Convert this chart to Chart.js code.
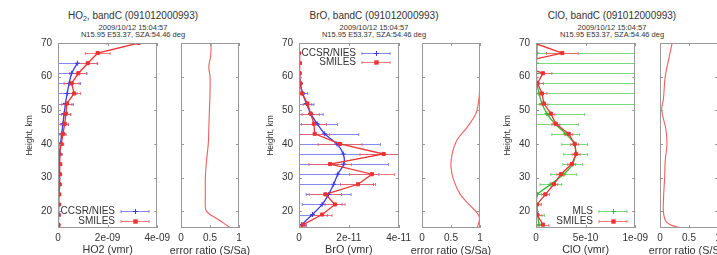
<!DOCTYPE html>
<html>
<head>
<meta charset="utf-8">
<script src="https://cdn.jsdelivr.net/npm/chart.js@4.4.0/dist/chart.umd.min.js"></script>
<style>
body { margin:0; width:717px; height:255px; overflow:hidden; background:#fff; position:relative;
       font-family:"Liberation Sans", Arial, sans-serif; color:#333; }
canvas { position:absolute; top:0; }
.ttl { position:absolute; width:220px; text-align:center; font-size:10px; line-height:12px; top:10px; white-space:nowrap; }
.ttl sub { font-size:7px; vertical-align:baseline; position:relative; top:2px; }
.sub { position:absolute; width:220px; text-align:center; font-size:7.5px; line-height:7px; top:24px; white-space:nowrap; }
.xr { position:absolute; width:120px; text-align:center; font-size:10.8px; line-height:12px; top:244px; white-space:nowrap; }
</style>
</head>
<body>
<div class="ttl" style="left:23px">HO<sub>2</sub>, bandC (091012000993)</div>
<div class="sub" style="left:23px">2009/10/12 15:04:57<br>N15.95 E53.37, SZA:54.46 deg</div>
<div class="ttl" style="left:264px">BrO, bandC (091012000993)</div>
<div class="sub" style="left:264px">2009/10/12 15:04:57<br>N15.95 E53.37, SZA:54.46 deg</div>
<div class="ttl" style="left:502px">ClO, bandC (091012000993)</div>
<div class="sub" style="left:502px">2009/10/12 15:04:57<br>N15.95 E53.37, SZA:54.46 deg</div>

<canvas id="m1" width="166" height="255" style="left:8px"></canvas>
<canvas id="e1" width="78" height="255" style="left:171px"></canvas>
<canvas id="m2" width="166" height="255" style="left:249px"></canvas>
<canvas id="e2" width="78" height="255" style="left:412px"></canvas>
<canvas id="m3" width="166" height="255" style="left:486px"></canvas>
<canvas id="e3" width="78" height="255" style="left:650px"></canvas>

<div class="xr" style="left:150px">error ratio (S/Sa)</div>
<div class="xr" style="left:391px">error ratio (S/Sa)</div>
<div class="xr" style="left:629px">error ratio (S/Sa)</div>

<script>
Chart.defaults.font.family = '"Liberation Sans", Arial, sans-serif';
Chart.defaults.color = '#333';

// retrieval grid (km)
var heights = [70, 67, 64, 61, 58, 55, 52, 49, 46, 43, 40, 37, 34, 31, 28, 25, 22, 19, 16];
var heightTicks = [20, 30, 40, 50, 60, 70];
var heightLabels = ['20', '30', '40', '50', '60', '70'];
var ratioTicks = [0, 0.5, 1];
var ratioLabels = ['0', '0.5', '1'];

// HO2
var ho2Smiles = [3.25e-9, 1.6e-9, 1.2e-9, 0.82e-9, 0.55e-9, 0.65e-9, 0.36e-9, 0.32e-9, 0.27e-9, 0.2e-9, 0.13e-9, 0.05e-9, 0.08e-9, 0.07e-9, 0.06e-9, 0.04e-9, 0.03e-9, 0.02e-9, 0.01e-9];
var ho2SmilesErr = [1.3e-9, 0.5e-9, 0.4e-9, 0.35e-9, 0.3e-9, 0.26e-9, 0.2e-9, 0.18e-9, 0.15e-9, 0.12e-9, 0.1e-9, 0.08e-9, 0.08e-9, 0.08e-9, 0.08e-9, 0.08e-9, 0.08e-9, 0.08e-9, 0.08e-9];
var ho2NiesHeights = [64, 61, 58, 55, 52, 49, 46, 43, 40, 37, 34, 31, 28, 25, 22, 19, 16];
var ho2Nies = [0.78e-9, 0.55e-9, 0.45e-9, 0.37e-9, 0.3e-9, 0.25e-9, 0.2e-9, 0.15e-9, 0.1e-9, 0.07e-9, 0.05e-9, 0.04e-9, 0.03e-9, 0.02e-9, 0.01e-9, 0.005e-9, 0];
var ho2NiesErr = [0.8e-9, 0.6e-9, 0.46e-9, 0.4e-9, 0.32e-9, 0.27e-9, 0.22e-9, 0.17e-9, 0.12e-9, 0.1e-9, 0.08e-9, 0.07e-9, 0.06e-9, 0.06e-9, 0.1e-9, 0.08e-9, 0.05e-9];
var ho2Ticks = [0, 2e-9, 4e-9];
var ho2TickLabels = ['0', '2e-09', '4e-09'];
var ho2RatioHeights = [70, 66, 63, 60, 55, 50, 45, 40, 35, 30, 25, 21, 20, 19, 18, 17, 16, 15];
var ho2Ratio = [0.52, 0.51, 0.48, 0.5, 0.5, 0.49, 0.48, 0.47, 0.44, 0.42, 0.42, 0.42, 0.44, 0.5, 0.6, 0.69, 0.77, 0.85];

// BrO
var broSmilesHeights = [67, 64, 61, 58, 55, 52, 49, 46, 43, 40, 37, 34, 31, 28, 25, 22, 19, 16];
var broSmiles = [0, 0.03e-11, 0.02e-11, 0.05e-11, 0.12e-11, 0.34e-11, 0.47e-11, 0.6e-11, 0.63e-11, 1.65e-11, 3.4e-11, 1.25e-11, 2.93e-11, 2.37e-11, 1.06e-11, 1.45e-11, 0.93e-11, 0.17e-11];
var broSmilesErr = [0.05e-11, 0.05e-11, 0.05e-11, 0.06e-11, 0.1e-11, 0.17e-11, 0.35e-11, 0.5e-11, 0.6e-11, 0.88e-11, 0.95e-11, 0.85e-11, 0.9e-11, 0.7e-11, 0.65e-11, 0.4e-11, 0.4e-11, 0.1e-11];
var broNies = [0, 0, 0.01e-11, 0.02e-11, 0.05e-11, 0.15e-11, 0.3e-11, 0.47e-11, 0.73e-11, 1.03e-11, 1.52e-11, 1.78e-11, 1.8e-11, 1.56e-11, 1.39e-11, 1.19e-11, 0.93e-11, 0.54e-11, 0.1e-11];
var broNiesErr = [0.02e-11, 0.02e-11, 0.03e-11, 0.05e-11, 0.08e-11, 0.2e-11, 0.3e-11, 0.5e-11, 0.82e-11, 1.37e-11, 1.75e-11, 2.6e-11, 1.8e-11, 1.65e-11, 1.6e-11, 0.9e-11, 0.8e-11, 0.6e-11, 0.2e-11];
var broTicks = [0, 2e-11, 4e-11];
var broTickLabels = ['0', '2e-11', '4e-11'];
var broRatioHeights = [70, 60, 55, 52, 49, 45, 41, 37, 33, 29, 25, 22, 19.5, 18, 16, 15];
var broRatio = [1.0, 1.0, 0.99, 0.97, 0.93, 0.78, 0.6, 0.52, 0.5, 0.55, 0.66, 0.81, 0.95, 0.99, 0.97, 0.95];

// ClO
var cloSmiles = [-0.2e-10, 2.65e-10, -2.0e-10, 0.7e-10, 0.15e-10, 0.6e-10, 0.8e-10, 1.5e-10, 2.0e-10, 3.3e-10, 3.9e-10, 4.05e-10, 3.6e-10, 2.5e-10, 1.8e-10, 0.95e-10, 0.1e-10, 0.1e-10, 0.7e-10];
var cloSmilesErr = [0.3e-10, 1.6e-10, 0.8e-10, 0.9e-10, 0.6e-10, 0.5e-10, 0.4e-10, 0.4e-10, 0.4e-10, 0.4e-10, 0.4e-10, 0.4e-10, 0.4e-10, 0.4e-10, 0.4e-10, 0.4e-10, 0.4e-10, 0.5e-10, 0.6e-10];
var cloMls = [0.1e-10, 0.1e-10, 0.05e-10, 0.05e-10, 0.1e-10, 0.3e-10, 0.6e-10, 1.1e-10, 1.9e-10, 3.0e-10, 3.9e-10, 4.0e-10, 3.7e-10, 2.8e-10, 1.5e-10, 0.15e-10, 0.05e-10, 0.15e-10, 0.3e-10];
var cloMlsErr = [5e-10, 12e-10, 12e-10, 12e-10, 12e-10, 12e-10, 12e-10, 3.8e-10, 2.4e-10, 1.4e-10, 1.3e-10, 1.2e-10, 1.0e-10, 1.3e-10, 1.1e-10, 0.6e-10, 0.5e-10, 0.7e-10, 0.5e-10];
var cloTicks = [0, 5e-10, 1e-9];
var cloTickLabels = ['0', '5e-10', '1e-09'];
var cloRatioHeights = [70, 66, 60, 53.5, 50, 44.5, 40, 35, 30, 23.5, 19.5, 17, 16, 15];
var cloRatio = [0.21, 0.16, 0.09, 0.06, 0.03, 0.1, 0.12, 0.09, 0.08, 0.06, 0.06, 0.1, 0.18, 0.35];

var RED = 'rgb(236,50,50)', RED_BAR = 'rgba(240,90,90,0.8)';
var BLUE = 'rgb(60,60,225)', BLUE_BAR = 'rgba(95,95,235,0.75)';
var GREEN = 'rgb(50,190,50)', GREEN_BAR = 'rgba(80,205,80,0.75)';

// horizontal error bars, gnuplot style
var errorBars = {
  id: 'errorBars',
  beforeDatasetsDraw: function (chart) {
    var ctx = chart.ctx, a = chart.chartArea, x = chart.scales.x, y = chart.scales.y;
    ctx.save();
    ctx.beginPath(); ctx.rect(a.left, a.top, a.width, a.height); ctx.clip();
    chart.data.datasets.forEach(function (ds) {
      if (!ds.xErr) return;
      ctx.strokeStyle = ds.barColor; ctx.lineWidth = 1;
      ctx.beginPath();
      ds.data.forEach(function (p, i) {
        var py = Math.round(y.getPixelForValue(p.y)) + 0.5;
        var x1 = x.getPixelForValue(p.x - ds.xErr[i]);
        var x2 = x.getPixelForValue(p.x + ds.xErr[i]);
        ctx.moveTo(x1, py); ctx.lineTo(x2, py);
        ctx.moveTo(x1, py - 1.5); ctx.lineTo(x1, py + 1.5);
        ctx.moveTo(x2, py - 1.5); ctx.lineTo(x2, py + 1.5);
      });
      ctx.stroke();
    });
    ctx.restore();
  }
};

// border box with inward ticks on all sides
var boxTicks = {
  id: 'boxTicks',
  afterDraw: function (chart) {
    var ctx = chart.ctx, a = chart.chartArea, x = chart.scales.x, y = chart.scales.y;
    ctx.save();
    ctx.strokeStyle = '#999'; ctx.lineWidth = 1;
    ctx.strokeRect(Math.round(a.left) + 0.5, Math.round(a.top) + 0.5, Math.round(a.width) - 1, Math.round(a.height) - 1);
    ctx.beginPath();
    x.ticks.forEach(function (t) {
      var px = Math.round(x.getPixelForValue(t.value)) + 0.5;
      ctx.moveTo(px, a.bottom); ctx.lineTo(px, a.bottom - 3);
      ctx.moveTo(px, a.top); ctx.lineTo(px, a.top + 3);
    });
    y.ticks.forEach(function (t) {
      var py = Math.round(y.getPixelForValue(t.value)) + 0.5;
      ctx.moveTo(a.left, py); ctx.lineTo(a.left + 3, py);
      ctx.moveTo(a.right, py); ctx.lineTo(a.right - 3, py);
    });
    ctx.stroke();
    ctx.restore();
  }
};

// key inside the plot: label, then sample line with error ticks
var gpLegend = {
  id: 'gpLegend',
  afterDraw: function (chart, args, opts) {
    var ctx = chart.ctx, a = chart.chartArea;
    ctx.save();
    ctx.font = '10px "Liberation Sans", Arial, sans-serif';
    ctx.textAlign = 'right'; ctx.textBaseline = 'middle';
    chart.data.datasets.forEach(function (ds, i) {
      var yy = Math.round(opts.top ? a.top + 10 + i * 9 : a.bottom - 17 + i * 9.5) + 0.5;
      ctx.fillStyle = '#333';
      ctx.fillText(ds.label, a.left + 57, yy);
      var x1 = a.left + 63, x2 = a.left + 91, xm = Math.round((x1 + x2) / 2) + 0.5;
      ctx.strokeStyle = ds.barColor; ctx.lineWidth = 1;
      ctx.beginPath();
      ctx.moveTo(x1, yy); ctx.lineTo(x2, yy);
      ctx.moveTo(x1, yy - 1.5); ctx.lineTo(x1, yy + 1.5);
      ctx.moveTo(x2, yy - 1.5); ctx.lineTo(x2, yy + 1.5);
      ctx.stroke();
      ctx.fillStyle = ds.borderColor; ctx.strokeStyle = ds.borderColor;
      if (ds.pointStyle === 'rect') {
        ctx.fillRect(xm - 2.2, yy - 2.2, 4.4, 4.4);
      } else {
        ctx.beginPath();
        ctx.moveTo(xm - 2.5, yy); ctx.lineTo(xm + 2.5, yy);
        ctx.moveTo(xm, yy - 2.5); ctx.lineTo(xm, yy + 2.5);
        ctx.stroke();
      }
    });
    ctx.restore();
  }
};

function profile(label, hs, vals, errs, color, barColor, style, order, tension) {
  return {
    label: label,
    data: hs.map(function (h, i) { return { x: vals[i], y: h }; }),
    xErr: errs, barColor: barColor,
    showLine: true, borderColor: color, backgroundColor: color, borderWidth: 1.3,
    pointStyle: style, pointRadius: style === 'rect' ? 2.2 : 2.5, pointBorderWidth: 1,
    order: order, tension: tension
  };
}

function heightAxis(showLabels, width) {
  return {
    type: 'linear', min: 15, max: 70,
    grid: { display: false, drawTicks: false }, border: { display: false },
    afterBuildTicks: function (ax) { ax.ticks = heightTicks.map(function (v) { return { value: v }; }); },
    ticks: { display: showLabels, padding: 6, font: { size: 10 }, callback: function (v, i) { return heightLabels[i]; } },
    title: { display: showLabels, text: 'Height, km', font: { size: 8.5 }, padding: { top: 16.4, bottom: 0 } },
    afterFit: function (ax) { ax.width = width; }
  };
}

function valueAxis(xMin, xMax, tickVals, tickLabels, text) {
  return {
    type: 'linear', min: xMin, max: xMax,
    grid: { display: false, drawTicks: false }, border: { display: false },
    afterBuildTicks: function (ax) { ax.ticks = tickVals.map(function (v) { return { value: v }; }); },
    ticks: { padding: 4, maxRotation: 0, autoSkip: false, font: { size: 10 }, callback: function (v, i) { return tickLabels[i]; } },
    title: { display: !!text, text: text, font: { size: 10.8, lineHeight: 1 }, padding: { top: 0, bottom: 0 } },
    afterFit: function (ax) { ax.height = 27; }
  };
}

function profileChart(id, xMax, tickVals, tickLabels, xTitle, sets, legendTop) {
  return new Chart(document.getElementById(id), {
    type: 'scatter',
    data: { datasets: sets },
    options: {
      responsive: false, animation: false, events: [],
      layout: { padding: { top: 43, right: 14, bottom: 0, left: 0 } },
      plugins: { legend: { display: false }, tooltip: { enabled: false }, gpLegend: { top: legendTop } },
      scales: { x: valueAxis(0, xMax, tickVals, tickLabels, xTitle), y: heightAxis(true, 50) }
    },
    plugins: [errorBars, boxTicks, gpLegend]
  });
}

// ratio panels: axis title is an html label below (wider than the plot)
function ratioChart(id, hs, vals) {
  return new Chart(document.getElementById(id), {
    type: 'scatter',
    data: { datasets: [{
      data: hs.map(function (h, i) { return { x: vals[i], y: h }; }),
      showLine: true, borderColor: 'rgb(240,95,95)', borderWidth: 1.1, pointRadius: 0, tension: 0.4
    }] },
    options: {
      responsive: false, animation: false, events: [],
      layout: { padding: { top: 43, right: 10, bottom: 0, left: 0 } },
      plugins: { legend: { display: false }, tooltip: { enabled: false } },
      scales: { x: valueAxis(0, 1, ratioTicks, ratioLabels, ''), y: heightAxis(false, 10) }
    },
    plugins: [boxTicks]
  });
}

var myChart1 = profileChart('m1', 4e-9, ho2Ticks, ho2TickLabels, 'HO2 (vmr)', [
  profile('CCSR/NIES', ho2NiesHeights, ho2Nies, ho2NiesErr, BLUE, BLUE_BAR, 'cross', 1, 0.2),
  profile('SMILES', heights, ho2Smiles, ho2SmilesErr, RED, RED_BAR, 'rect', 0, 0)
], false);
var myRatio1 = ratioChart('e1', ho2RatioHeights, ho2Ratio);

var myChart2 = profileChart('m2', 4e-11, broTicks, broTickLabels, 'BrO (vmr)', [
  profile('CCSR/NIES', heights, broNies, broNiesErr, BLUE, BLUE_BAR, 'cross', 1, 0.3),
  profile('SMILES', broSmilesHeights, broSmiles, broSmilesErr, RED, RED_BAR, 'rect', 0, 0)
], true);
var myRatio2 = ratioChart('e2', broRatioHeights, broRatio);

var myChart3 = profileChart('m3', 1e-9, cloTicks, cloTickLabels, 'ClO (vmr)', [
  profile('MLS', heights, cloMls, cloMlsErr, GREEN, GREEN_BAR, 'cross', 1, 0.2),
  profile('SMILES', heights, cloSmiles, cloSmilesErr, RED, RED_BAR, 'rect', 0, 0)
], false);
var myRatio3 = ratioChart('e3', cloRatioHeights, cloRatio);
</script>
</body>
</html>
